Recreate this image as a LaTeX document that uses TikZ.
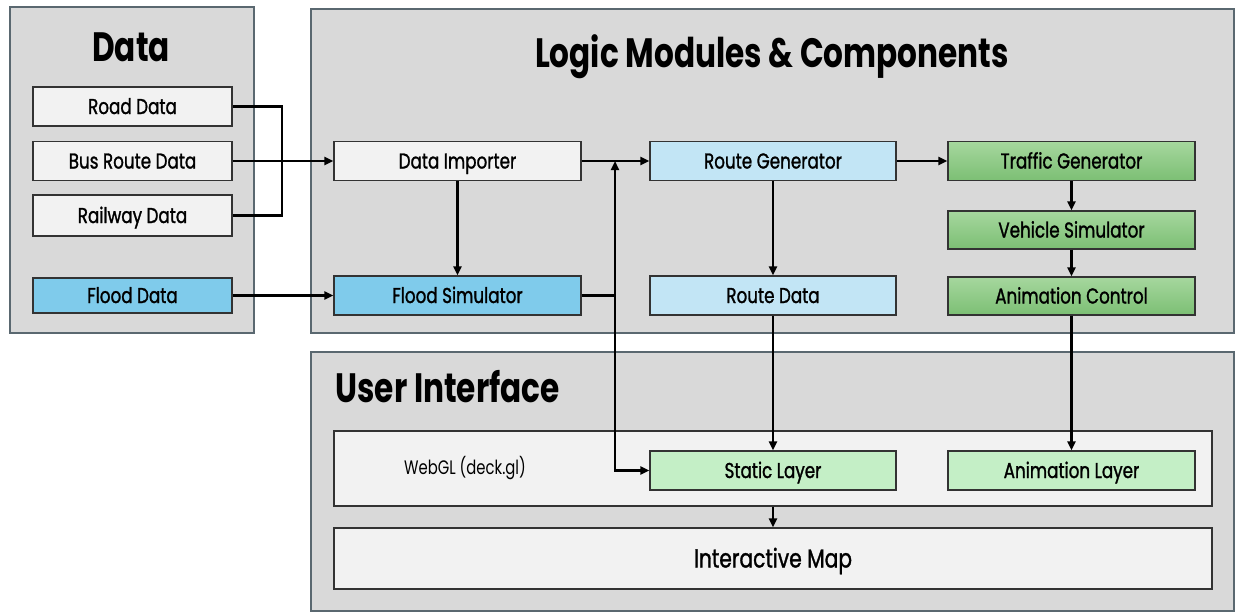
\documentclass[tikz,border=0pt]{standalone}
\usepackage{fontspec}
\setmainfont{Poppins}[FakeStretch=0.76]
\newfontfamily\boxfont{Poppins}[FakeStretch=0.78, FakeBold=1.2]
\usetikzlibrary{arrows.meta}

\definecolor{panelfill}{HTML}{D9D9D9}
\definecolor{paneledge}{HTML}{5A6870}
\definecolor{boxwhite}{HTML}{F2F2F2}
\definecolor{lightblue}{HTML}{C2E5F5}
\definecolor{floodblue}{HTML}{7FCBEB}
\definecolor{greentop}{HTML}{A6D79E}
\definecolor{greenbot}{HTML}{7CBF74}
\definecolor{lightgreen}{HTML}{C4EFC6}

\tikzset{
  panel/.style={draw=paneledge, fill=panelfill, line width=1.2pt},
  box/.style={draw=black!80, line width=1.1pt, fill=boxwhite, inner sep=0pt,
    text height=15pt, text depth=0pt,
    font=\boxfont\fontsize{21.5}{24}\selectfont},
  whitebox/.style={box},
  bluebox/.style={box, fill=lightblue},
  floodbox/.style={box, fill=floodblue},
  greenbox/.style={box, top color=greentop, bottom color=greenbot},
  layerbox/.style={box, fill=lightgreen},
  title/.style={font=\bfseries\fontsize{41}{46}\selectfont, text height=28.5pt, text depth=0pt},
  link/.style={line width=2.2pt, -{Triangle[length=9pt,width=8pt]}},
  wire/.style={line width=2.2pt}
}

\begin{document}
\begin{tikzpicture}[x=1pt, y=-1pt]
  \useasboundingbox (0,0) rectangle (1235,611);

  % panels
  \draw[panel] (10,7) rectangle (254,333);
  \draw[panel] (311,9) rectangle (1234,333);
  \draw[panel] (311,352) rectangle (1234,611);

  \node[title] (datatitle) at (131,47) {Data};
  \node[title] (logictitle) at (772,53) {Logic Modules \& Components};
  \node[title, anchor=west] (uititle) at (332,388) {User Interface};

  % data sources
  \node[whitebox, minimum width=199pt, minimum height=39pt] (road) at (132.5,106.5) {Road Data};
  \node[whitebox, minimum width=199pt, minimum height=39pt] (bus) at (132.5,161) {Bus Route Data};
  \node[whitebox, minimum width=199pt, minimum height=41pt] (rail) at (132.5,215.5) {Railway Data};
  \node[floodbox, minimum width=199pt, minimum height=35pt] (flooddata) at (132.5,295.5) {Flood Data};

  % logic modules
  \node[whitebox, minimum width=247pt, minimum height=39pt] (importer) at (457.5,161) {Data Importer};
  \node[floodbox, minimum width=247pt, minimum height=39pt] (floodsim) at (457.5,295.5) {Flood Simulator};
  \node[bluebox, minimum width=246pt, minimum height=39pt] (routegen) at (773,161) {Route Generator};
  \node[bluebox, minimum width=246pt, minimum height=39pt] (routedata) at (773,295.5) {Route Data};
  \node[greenbox, minimum width=247pt, minimum height=39pt] (traffic) at (1071.5,161) {Traffic Generator};
  \node[greenbox, minimum width=247pt, minimum height=38pt] (vehicle) at (1071.5,230) {Vehicle Simulator};
  \node[greenbox, minimum width=247pt, minimum height=38pt] (animctrl) at (1071.5,296) {Animation Control};

  % user interface
  \node[whitebox, minimum width=878pt, minimum height=75pt] (webgl) at (773,468.5) {};
  \node[font=\fontsize{19.5}{22}\selectfont, text height=13.5pt, text depth=0pt] (webgllabel) at (465,468) {WebGL (deck.gl)};
  \node[layerbox, minimum width=246pt, minimum height=39pt] (static) at (773,470.5) {Static Layer};
  \node[layerbox, minimum width=247pt, minimum height=39pt] (animlayer) at (1071.5,470.5) {Animation Layer};
  \node[whitebox, minimum width=878pt, minimum height=61pt, text height=18pt, font=\boxfont\fontsize{26}{30}\selectfont] (map) at (773,558.5) {Interactive Map};

  % connectors
  \coordinate (merge) at (282,106.5);
  \coordinate (jn) at (615,295.5);
  \draw[wire] (road.east) -- (merge) |- (rail.east);
  \draw[link] (bus.east) -- (importer.west);
  \draw[link] (flooddata.east) -- (floodsim.west);
  \draw[link] (importer.south) -- (floodsim.north);
  \draw[link] (importer.east) -- (routegen.west);
  \draw[link] (floodsim.east) -- (jn) -- (jn |- importer.east);
  \draw[link] (jn) |- (static.west);
  \draw[link] (routegen.east) -- (traffic.west);
  \draw[link] (routegen.south) -- (routedata.north);
  \draw[link] (traffic.south) -- (vehicle.north);
  \draw[link] (vehicle.south) -- (animctrl.north);
  \draw[link] (routedata.south) -- (static.north);
  \draw[link] (animctrl.south) -- (animlayer.north);
  \draw[link] (webgl.south) -- (map.north);
\end{tikzpicture}
\end{document}
